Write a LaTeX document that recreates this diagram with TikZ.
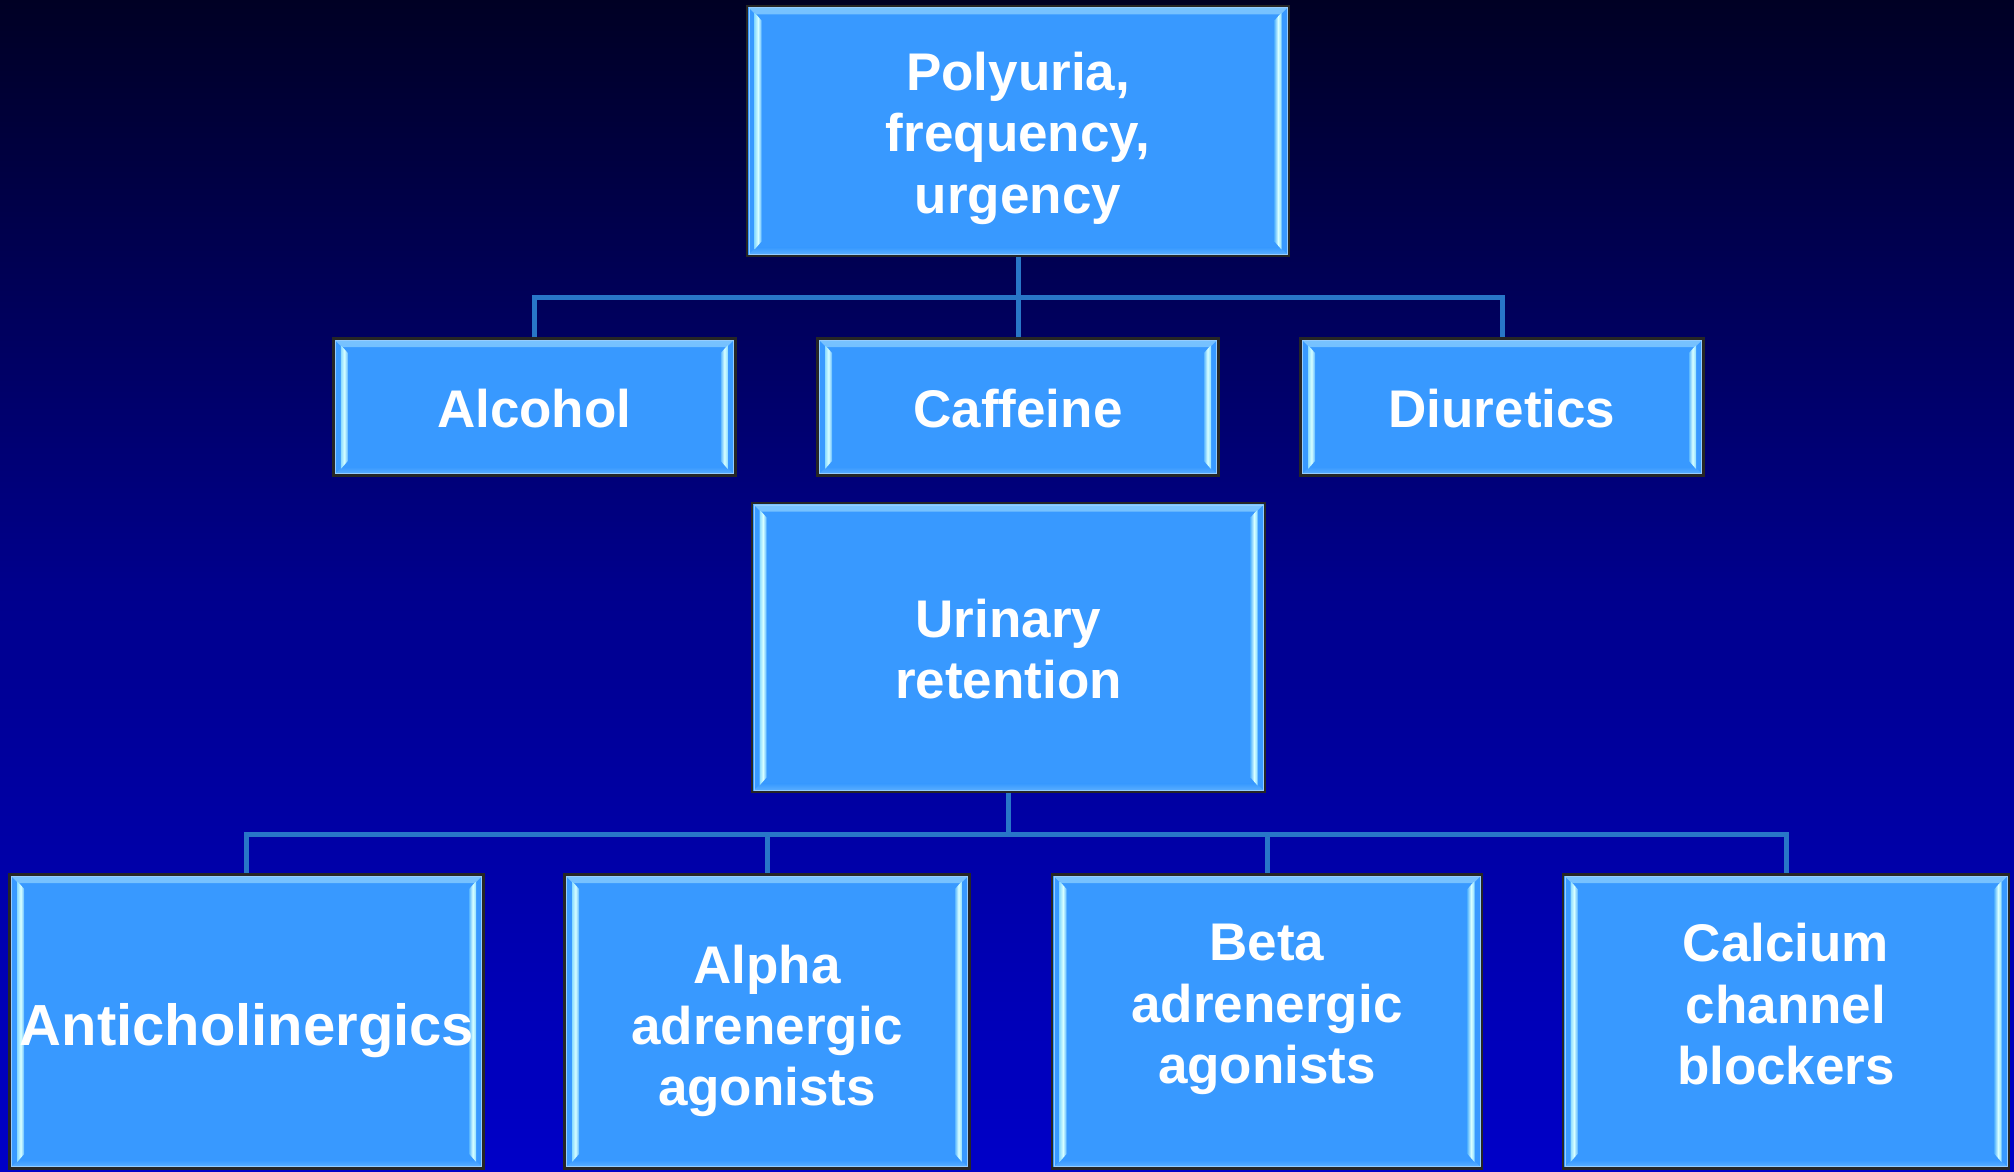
\documentclass[tikz,border=0pt]{standalone}
\usepackage{fontspec}
\setmainfont{Liberation Sans}
\usetikzlibrary{calc}
\definecolor{bgtop}{RGB}{0,0,36}
\definecolor{bgmid}{RGB}{0,0,140}
\definecolor{bgbot}{RGB}{0,0,200}
\definecolor{boxfill}{RGB}{56,153,255}
\definecolor{bandtop}{RGB}{120,195,255}
\definecolor{bandbot}{RGB}{96,178,255}
\definecolor{edgeout}{RGB}{140,220,255}
\definecolor{edgemid}{RGB}{215,255,255}
\definecolor{edgein}{RGB}{95,185,255}
\definecolor{rimline}{RGB}{150,205,255}
\definecolor{connect}{RGB}{40,118,200}
\tikzset{
  bevel/.style={path picture={
    \fill[top color=bandtop, bottom color=boxfill]
      let \p1=(path picture bounding box.north west), \p2=(path picture bounding box.south east) in
      (\x1,\y1) -- (\x2,\y1) -- (\x2-8pt,\y1-8pt) -- (\x1+8pt,\y1-8pt) -- cycle;
    \fill[top color=boxfill, bottom color=bandbot]
      let \p1=(path picture bounding box.north west), \p2=(path picture bounding box.south east) in
      (\x1,\y2) -- (\x2,\y2) -- (\x2-8pt,\y2+8pt) -- (\x1+8pt,\y2+8pt) -- cycle;
    \fill[left color=edgeout, right color=edgein, middle color=edgemid]
      let \p1=(path picture bounding box.north west), \p2=(path picture bounding box.south east) in
      (\x1+7pt,\y1-6pt) -- (\x1+14pt,\y1-14pt) -- (\x1+14pt,\y2+14pt) -- (\x1+7pt,\y2+6pt) -- cycle;
    \fill[left color=edgein, right color=edgeout, middle color=edgemid]
      let \p1=(path picture bounding box.north west), \p2=(path picture bounding box.south east) in
      (\x2-7pt,\y1-6pt) -- (\x2-14pt,\y1-14pt) -- (\x2-14pt,\y2+14pt) -- (\x2-7pt,\y2+6pt) -- cycle;
    \draw[rimline, line width=1pt]
      let \p1=(path picture bounding box.north west), \p2=(path picture bounding box.south east) in
      (\x1+1.5pt,\y1-1.5pt) rectangle (\x2-1.5pt,\y2+1.5pt);
  }},
  boxnode/.style={rectangle, inner sep=0pt, fill=boxfill, draw=black!85, line width=1.8pt, bevel},
  lbl/.style={anchor=base, inner sep=0pt, text=white, font=\bfseries\fontsize{53}{61.3}\selectfont},
  biglbl/.style={lbl, font=\bfseries\fontsize{58}{66}\selectfont},
  conn/.style={draw=connect, line width=5pt, line join=miter},
}
\newcommand{\stack}[1]{\begin{tabular}[t]{@{}c@{}}#1\end{tabular}}
\begin{document}
\begin{tikzpicture}[x=1pt, y=-1pt]
\useasboundingbox (0,0) rectangle (2014,1172);
\shade[top color=bgtop, bottom color=bgbot, middle color=bgmid] (0,0) rectangle (2014,1172);

% boxes
\node[boxnode, minimum width=541pt, minimum height=249pt] (poly) at (1018,131) {};
\node[boxnode, minimum width=401pt, minimum height=136pt] (alc) at (534.3,407) {};
\node[boxnode, minimum width=400pt, minimum height=136pt] (caf) at (1018,407) {};
\node[boxnode, minimum width=402pt, minimum height=136pt] (diu) at (1502,407) {};
\node[boxnode, minimum width=512pt, minimum height=288pt] (uri) at (1008.5,647.5) {};
\node[boxnode, minimum width=473pt, minimum height=293pt] (anti) at (246.7,1021.5) {};
\node[boxnode, minimum width=404pt, minimum height=293pt] (alpha) at (767,1021.5) {};
\node[boxnode, minimum width=429pt, minimum height=293pt] (beta) at (1267,1021.5) {};
\node[boxnode, minimum width=445pt, minimum height=293pt] (calc) at (1786,1021.5) {};

% connectors
\coordinate (bar1) at ($(poly.south)+(0,41)$);
\coordinate (bar2) at ($(uri.south)+(0,42.5)$);
\draw[conn] (poly.south) -- (bar1);
\draw[conn] (bar1) -| (alc.north);
\draw[conn] (bar1) -| (diu.north);
\draw[conn] (bar1) -- (caf.north);
\draw[conn] (uri.south) -- (bar2);
\draw[conn] (bar2) -| (anti.north);
\draw[conn] (bar2) -| (alpha.north);
\draw[conn] (bar2) -| (beta.north);
\draw[conn] (bar2) -| (calc.north);

% outlines on top of the connector ends
\foreach \n in {poly,alc,caf,diu,uri,anti,alpha,beta,calc}
  \draw[black!85, line width=1.8pt] (\n.north west) rectangle (\n.south east);

% labels
\node[lbl] (polyt) at (1018,90.5) {\stack{Polyuria,\\frequency,\\urgency}};
\node[lbl] (alct) at (534.3,427.5) {Alcohol};
\node[lbl] (caft) at (1018,427.5) {Caffeine};
\node[lbl] (diut) at (1502,427.5) {Diuretics};
\node[lbl] (urit) at (1008.5,637.3) {\stack{Urinary\\retention}};
\node[biglbl] (antit) at (247,1045) {Anticholinergics};
\node[lbl] (alphat) at (767,983.3) {\stack{Alpha\\adrenergic\\agonists}};
\node[lbl] (betat) at (1267,960.7) {\stack{Beta\\adrenergic\\agonists}};
\node[lbl] (calct) at (1786,961.7) {\stack{Calcium\\channel\\blockers}};
\end{tikzpicture}
\end{document}
